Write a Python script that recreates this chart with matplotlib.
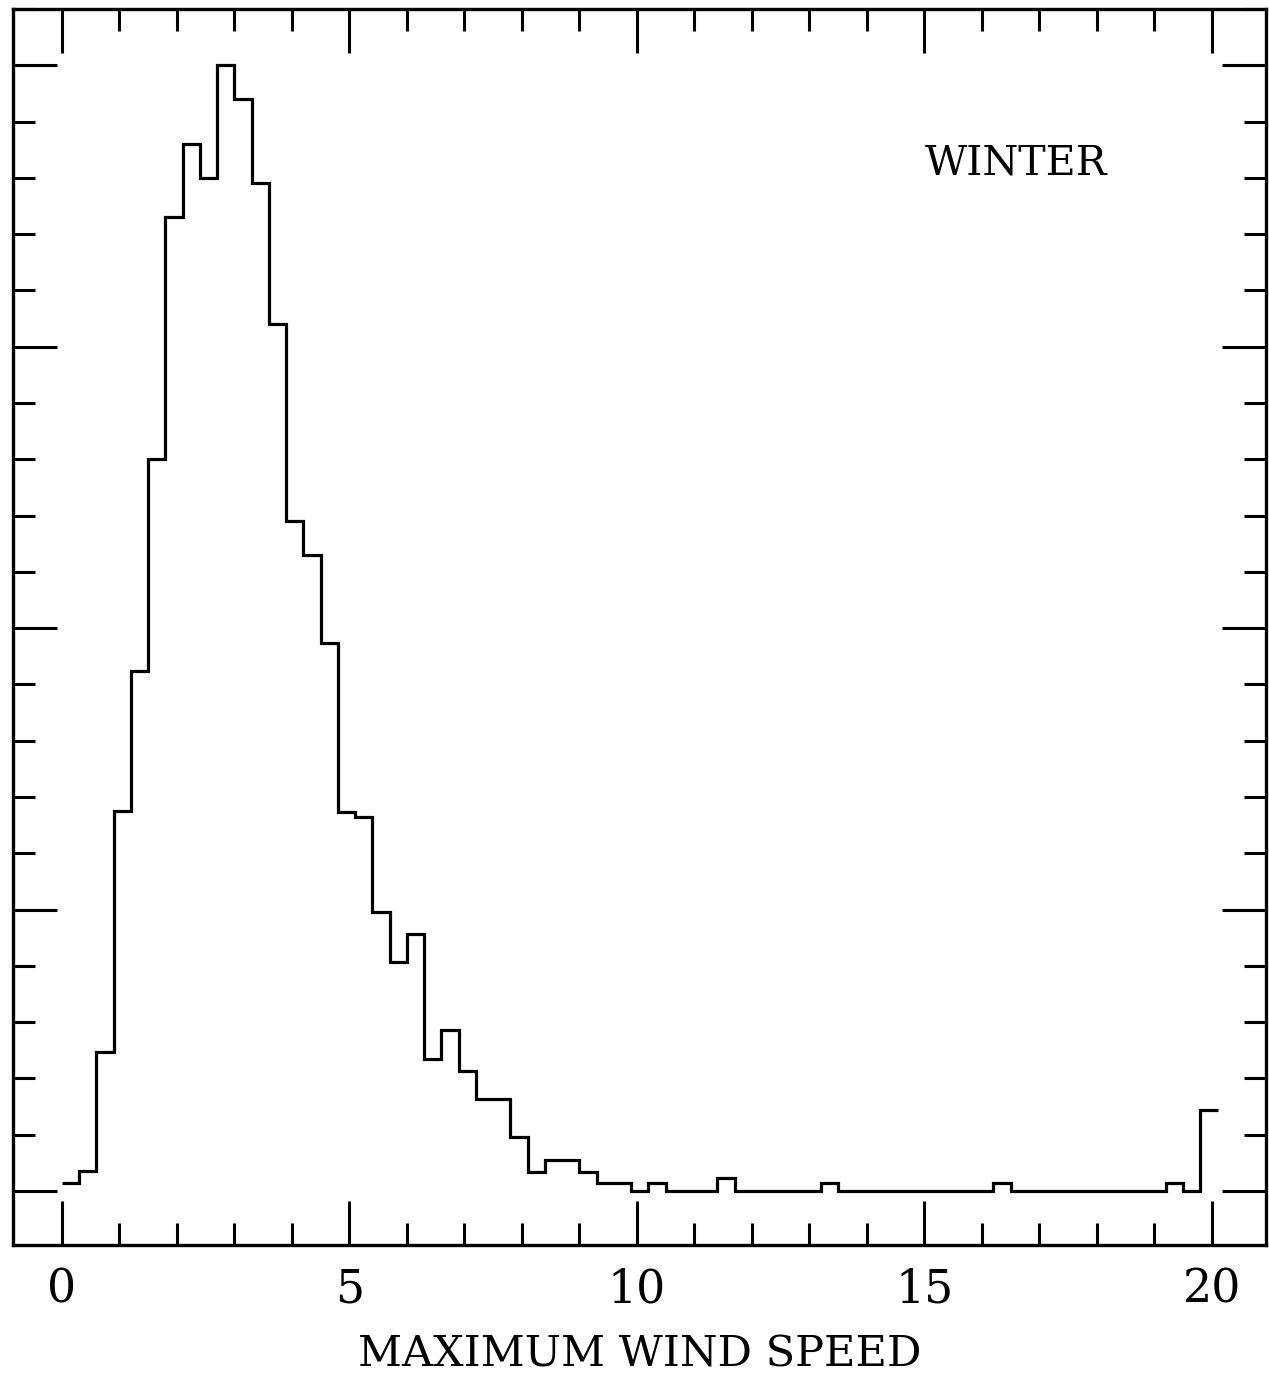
import matplotlib
matplotlib.use("Agg")
import matplotlib.pyplot as plt
import numpy as np
from matplotlib.ticker import MultipleLocator, NullFormatter

# ---- data ----
bin_width = 0.3
bin_start = 0.0
counts = [0.15, 0.36, 2.47, 6.75, 9.24, 13.0, 17.3, 18.6, 18.0,
          20.0, 19.4, 17.9, 15.4, 11.9, 11.3, 9.73,
          6.74, 6.64, 4.95, 4.06, 4.57, 2.35, 2.86, 2.14, 1.63, 1.63,
          0.95, 0.33, 0.55, 0.55, 0.33, 0.14, 0.14,
          0.0, 0.14, 0.0, 0.0, 0.0, 0.23,
          0.0, 0.0, 0.0, 0.0, 0.0, 0.14,
          0.0, 0.0, 0.0, 0.0, 0.0, 0.0, 0.0, 0.0, 0.0, 0.14,
          0.0, 0.0, 0.0, 0.0, 0.0, 0.0, 0.0, 0.0, 0.0, 0.14, 0.0, 1.43]
x_ticks = [0, 5, 10, 15, 20]
x_tick_labels = ["0", "5", "10", "15", "20"]
x_label = "MAXIMUM WIND SPEED"
season = "WINTER"

edges = bin_start + bin_width * np.arange(len(counts) + 1)

plt.rcParams['font.family'] = ['DejaVu Serif']

fig = plt.figure(figsize=(12.69, 13.83), dpi=100)
ax = fig.add_axes([13 / 1269, 138 / 1383, 1253 / 1269, 1236 / 1383])

ax.stairs(counts, edges, baseline=None, color='black', linewidth=2.3)

ax.set_xlim(-0.85, 20.94)
ax.set_ylim(-0.96, 21.0)

ax.set_xticks(x_ticks)
ax.set_xticklabels(x_tick_labels)
ax.xaxis.set_minor_locator(MultipleLocator(1))
ax.yaxis.set_major_locator(MultipleLocator(5))
ax.yaxis.set_minor_locator(MultipleLocator(1))
ax.yaxis.set_major_formatter(NullFormatter())

ax.tick_params(which='both', direction='in', top=True, right=True,
               width=2.2, color='black')
ax.tick_params(which='major', length=32)
ax.tick_params(which='minor', length=16)
ax.tick_params(axis='x', which='major', labelsize=33, pad=16)
ax.tick_params(axis='y', labelleft=False)

for sp in ax.spines.values():
    sp.set_linewidth(2.4)

ax.set_xlabel(x_label, fontsize=31, labelpad=15)

ax.text(0.8005, 0.875, season, transform=ax.transAxes, fontsize=29.5,
        ha='center', va='center')

fig.savefig("out.png", dpi=100, facecolor='white')
